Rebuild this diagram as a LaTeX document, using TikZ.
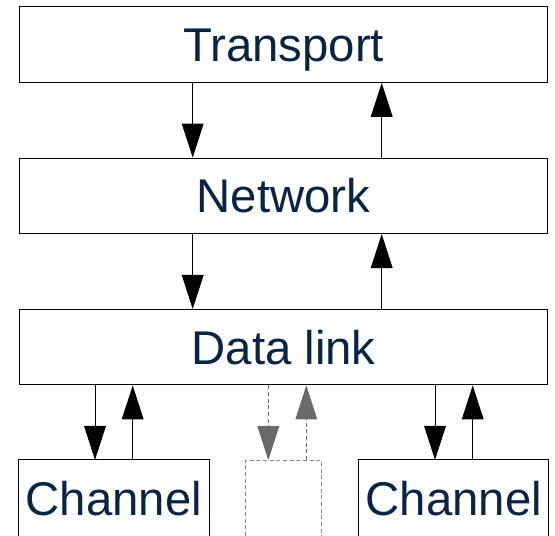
\documentclass[tikz,border=0pt]{standalone}
\usepackage{fontspec}
\setmainfont{Liberation Sans}
\usetikzlibrary{arrows.meta}
\definecolor{labelblue}{HTML}{0A2444}
\definecolor{ghost}{HTML}{6A6A6A}
\begin{document}
\begin{tikzpicture}[x=0.75pt, y=-0.75pt,
  layer/.style={draw=black, line width=0.75pt, inner sep=0pt, anchor=center,
    text=labelblue, font=\fontsize{35.5}{40}\selectfont,
    text height=25.4pt, text depth=0pt},
  wide/.style={layer, minimum width=396.4pt, minimum height=56.6pt},
  chan/.style={layer, draw=none, minimum width=141.9pt, minimum height=56.6pt},
  ghostbox/.style={minimum width=56.25pt, minimum height=56.6pt, inner sep=0pt},
  rim/.style={line width=0.75pt, draw=black},
  ghostrim/.style={line width=0.75pt, draw=ghost!80, dash pattern=on 3pt off 2pt},
  flow/.style={line width=0.75pt, draw=black,
    -{Triangle[length=25.5pt, width=16.3pt]}},
  ghostflow/.style={line width=0.75pt, draw=ghost, dash pattern=on 3pt off 2pt,
    -{Triangle[length=25.5pt, width=16.3pt, fill=ghost, sep=0pt]}}]
  \useasboundingbox (0,0) rectangle (555,535);
  \clip (0,0) rectangle (555,535);

  % protocol layers
  \node[wide] (T) at (283.6,44.6) {Transport};
  \node[wide] (N) at (283.6,195.8) {Network};
  \node[wide] (D) at (283.6,347.2) {Data link};

  % channels below the data link layer (open at the lower edge)
  \node[chan] (C1) at (113.9,498.1) {Channel};
  \node[ghostbox] (C2) at (283.5,498.1) {};
  \node[chan] (C3) at (453.8,498.1) {Channel};
  \draw[rim] (C1.south west) -- (C1.north west) -- (C1.north east) -- (C1.south east);
  \draw[ghostrim] (C2.south west) -- (C2.north west) -- (C2.north east) -- (C2.south east);
  \draw[rim] (C3.south west) -- (C3.north west) -- (C3.north east) -- (C3.south east);

  % vertical flows between layers
  \draw[flow] (T.south -| 192.7,0) -- (N.north -| 192.7,0);
  \draw[flow] (N.north -| 381.7,0) -- (T.south -| 381.7,0);
  \draw[flow] (N.south -| 192.7,0) -- (D.north -| 192.7,0);
  \draw[flow] (D.north -| 381.7,0) -- (N.south -| 381.7,0);

  % flows between the data link layer and the channels
  \draw[flow] (D.south -| 95,0) -- (C1.north -| 95,0);
  \draw[flow] (C1.north -| 132.7,0) -- (D.south -| 132.7,0);
  \draw[ghostflow] (D.south -| 268.3,0) -- (C2.north -| 268.3,0);
  \draw[ghostflow] (C2.north -| 306.3,0) -- (D.south -| 306.3,0);
  \draw[flow] (D.south -| 435,0) -- (C3.north -| 435,0);
  \draw[flow] (C3.north -| 472.7,0) -- (D.south -| 472.7,0);
\end{tikzpicture}
\end{document}
